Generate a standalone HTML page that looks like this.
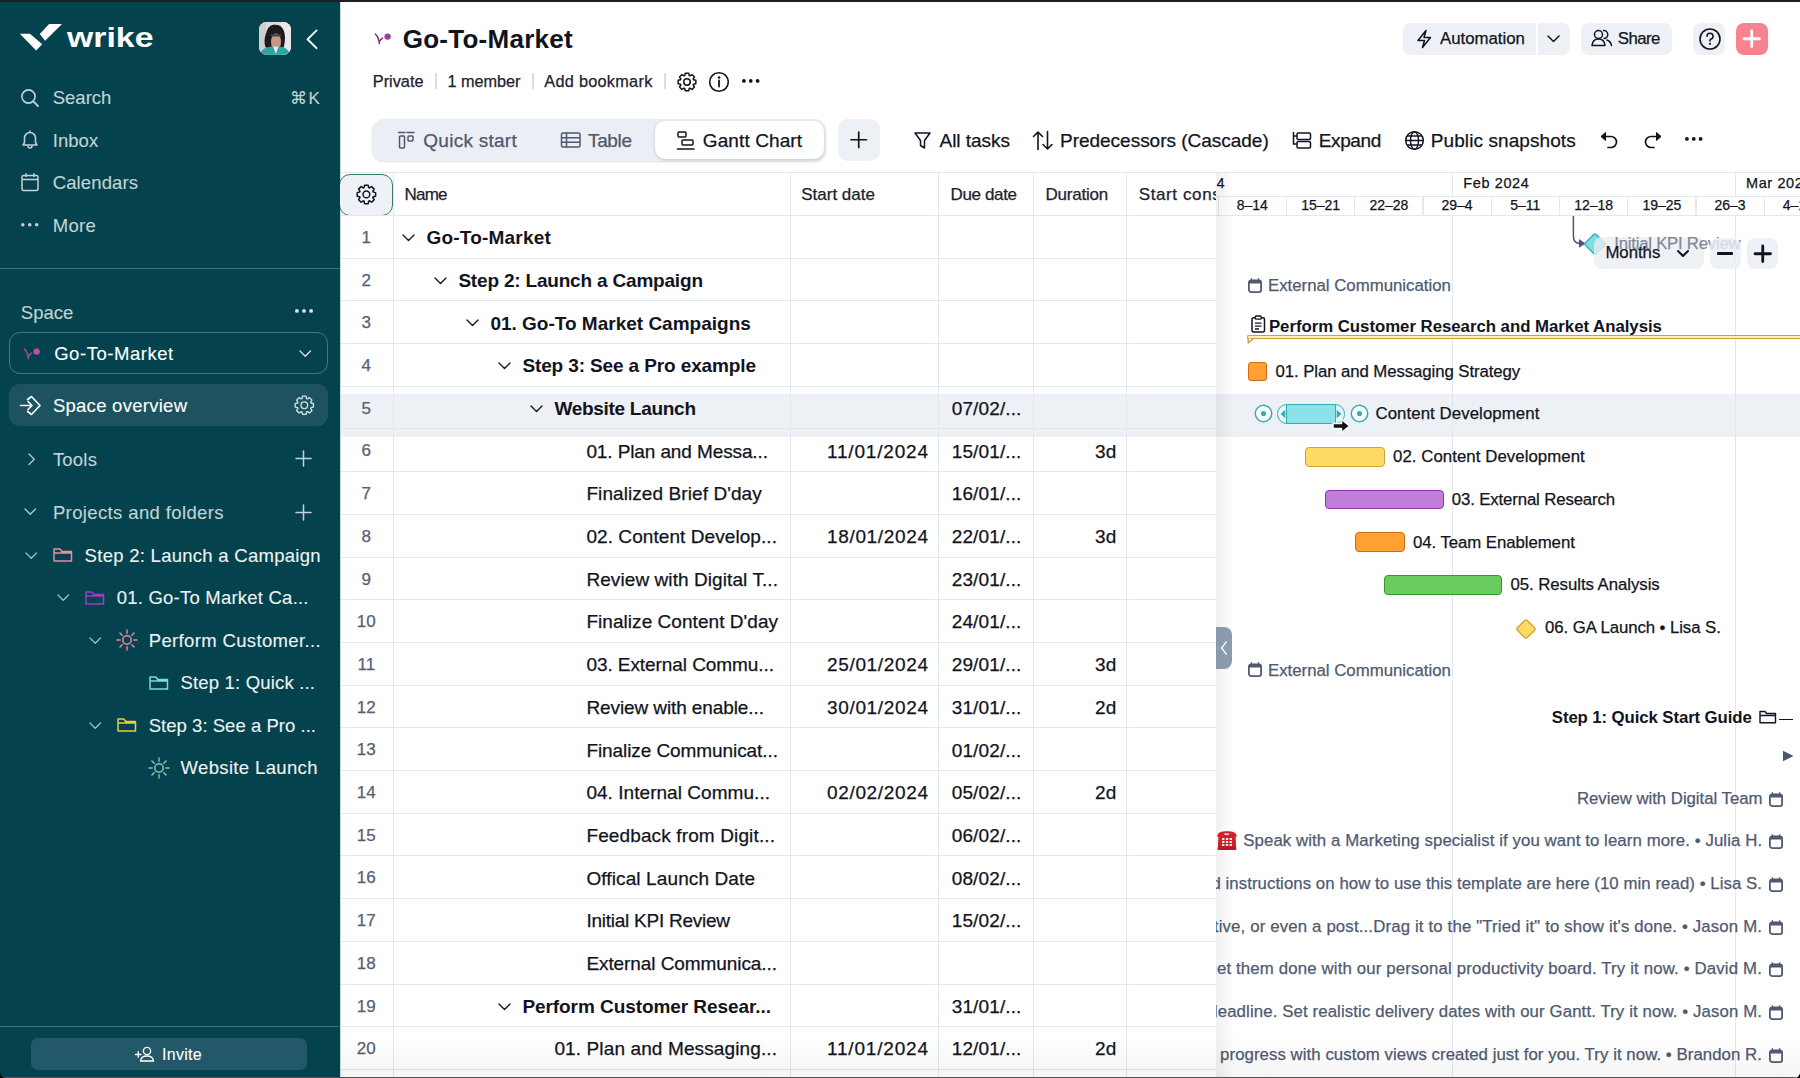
<!DOCTYPE html>
<html><head><meta charset="utf-8"><title>Wrike Gantt</title><style>*{margin:0;padding:0}
html,body{width:1800px;height:1078px;overflow:hidden;background:#000;font-family:"Liberation Sans",sans-serif}
.a{position:absolute}
.sb .t{-webkit-text-stroke:0.1px currentColor}
.t{position:absolute;line-height:1;white-space:nowrap;-webkit-text-stroke:0.25px currentColor}
#root{position:absolute;left:0;top:0;width:1800px;height:1078px;overflow:hidden;border-radius:0 0 6px 6px}
</style></head>
<body><div id="root">
<div class="sb"><div class="a" style="left:0.00px;top:0.00px;width:340.00px;height:1078.00px;background:#04434E;"></div>
<svg class="a" style="left:18.00px;top:23.00px;" width="46.00" height="29.00" viewBox="0 0 46.00 29.00" fill="none"><path d="M1.8 10.7 L12 10.7 L24.2 21.3 L18.2 27.6 Z" fill="#fff"/><path d="M21.8 11.1 L31.1 0.9 L44 0.9 L27.1 17.8 Z" fill="#fff"/></svg>
<div class="t " style="left:66.50px;top:23.40px;font-size:28.5px;color:#FFFFFF;transform:scaleX(1.1869);transform-origin:0 0;font-weight:700;-webkit-text-stroke:0.01px currentColor;">wrike</div>
<svg class="a" style="left:258.90px;top:22.30px;" width="32.00" height="32.70" viewBox="0 0 32.00 32.70" fill="none"><defs><clipPath id="av"><rect x="0" y="0" width="32" height="32.7" rx="7.5"/></clipPath></defs><g clip-path="url(#av)"><rect width="32" height="33" fill="#DCDCDC"/><rect x="22" y="0" width="10" height="33" fill="#E9E9E9"/><rect x="0" y="0" width="7" height="33" fill="#CFCFD0"/><path d="M6.5 25 C4.5 19 6 14 7.5 10 C9 5 12 2.5 16 2.8 C21 2.5 24.5 6 25.5 11 C26.5 16 26 21 24.5 26 L9 27 Z" fill="#1E1A1C"/><ellipse cx="17" cy="20" rx="5" ry="8.5" fill="#C99884"/><rect x="11.8" y="12.2" width="10.4" height="2.2" rx="1" fill="#3B4450"/><path d="M1 33 C2.5 27 7 25 13 24.6 L20 24.6 C25.5 25 29.5 27 31 33 Z" fill="#2FA6A4"/><path d="M14 24.6 L16.8 32 L19.6 24.6 Z" fill="#F0EAE6"/></g></svg>
<svg class="a" style="left:305.00px;top:27.50px;" width="15.00" height="22.50" viewBox="0 0 15.00 22.50" fill="none"><path d="M11.6 2.4 L2.6 11.3 L11.6 20.2" stroke="#EEF5F6" stroke-width="1.9" stroke-linecap="round" stroke-linejoin="round"/></svg>
<svg class="a" style="left:20.00px;top:88.00px;" width="20.00" height="20.00" viewBox="0 0 20.00 20.00" fill="none"><circle cx="8.5" cy="8.5" r="6.6" stroke="#C3D3D6" stroke-width="1.6"/><path d="M13.3 13.3 L18 18" stroke="#C3D3D6" stroke-width="1.8" stroke-linecap="round"/></svg>
<div class="t " style="left:52.70px;top:89.40px;font-size:18.5px;color:#C3D3D6;letter-spacing:0.017px;">Search</div>
<div class="t " style="left:290.00px;top:90.40px;font-size:17px;color:#C3D3D6;letter-spacing:1.411px;">⌘K</div>
<svg class="a" style="left:20.00px;top:130.00px;" width="20.00" height="21.00" viewBox="0 0 20.00 21.00" fill="none"><path d="M3 15 H17 L15.5 12.5 V8 A5.5 5.5 0 0 0 4.5 8 V12.5 Z" stroke="#C3D3D6" stroke-width="1.5" stroke-linejoin="round"/><path d="M10 1 V2.5 M8 16 A2 2 0 0 0 12 16" stroke="#C3D3D6" stroke-width="1.5" stroke-linecap="round"/></svg>
<div class="t " style="left:52.70px;top:131.70px;font-size:18.5px;color:#C3D3D6;letter-spacing:0.061px;">Inbox</div>
<svg class="a" style="left:21.00px;top:172.00px;" width="19.00" height="20.00" viewBox="0 0 19.00 20.00" fill="none"><rect x="1" y="3.5" width="16" height="15" rx="1.5" stroke="#C3D3D6" stroke-width="1.5"/><path d="M1 7.5 H17 M5 1.2 V5 M13 1.2 V5" stroke="#C3D3D6" stroke-width="1.5"/></svg>
<div class="t " style="left:52.70px;top:174.30px;font-size:18.5px;color:#C3D3D6;letter-spacing:0.122px;">Calendars</div>
<svg class="a" style="left:21.00px;top:222.20px;" width="17.50" height="5.60" viewBox="0 0 17.50 5.60" fill="none"><circle cx="1.80" cy="2.8" r="1.8" fill="#C3D3D6"/><circle cx="8.75" cy="2.8" r="1.8" fill="#C3D3D6"/><circle cx="15.70" cy="2.8" r="1.8" fill="#C3D3D6"/></svg>
<div class="t " style="left:52.70px;top:217.00px;font-size:18.5px;color:#C3D3D6;letter-spacing:0.283px;">More</div>
<div class="a" style="left:0.00px;top:268.00px;width:340.00px;height:1.30px;background:rgba(160,200,205,0.35);"></div>
<div class="t " style="left:20.80px;top:304.20px;font-size:18.5px;color:#C3D3D6;letter-spacing:0.011px;">Space</div>
<svg class="a" style="left:294.70px;top:308.40px;" width="18.00" height="5.80" viewBox="0 0 18.00 5.80" fill="none"><circle cx="1.90" cy="2.9" r="1.9" fill="#DDE7E9"/><circle cx="9.00" cy="2.9" r="1.9" fill="#DDE7E9"/><circle cx="16.10" cy="2.9" r="1.9" fill="#DDE7E9"/></svg>
<div class="a" style="left:9.40px;top:332.40px;width:318.30px;height:42.00px;border:1.3px solid rgba(170,205,210,0.38);border-radius:11px;box-sizing:border-box;"></div>
<svg class="a" style="left:19.30px;top:343.00px;" width="22.00" height="18.00" viewBox="0 0 22.00 18.00" fill="none"><path d="M5.3 6 C7.5 8 9 11 9.4 15.6" stroke="#A44C9C" stroke-width="1.5" stroke-linecap="round" fill="none"/><path d="M12.6 10.1 C11.3 10.9 10.3 12 9.7 13.3" stroke="#A44C9C" stroke-width="1.5" stroke-linecap="round" fill="none"/><circle cx="17.6" cy="8.6" r="3.2" fill="#B452AC"/></svg>
<div class="t " style="left:54.20px;top:344.80px;font-size:18.5px;color:#FFFFFF;letter-spacing:0.538px;">Go-To-Market</div>
<svg class="a" style="left:298.05px;top:349.38px;" width="14.50" height="9.25" viewBox="0 0 14.50 9.25" fill="none"><path d="M2 2 L7.25 7.25 L12.5 2" stroke="#D8E4E6" stroke-width="1.4" stroke-linecap="round" stroke-linejoin="round"/></svg>
<div class="a" style="left:9.40px;top:384.40px;width:318.30px;height:42.10px;background:#1D5360;border-radius:11px;"></div>
<svg class="a" style="left:19.00px;top:395.00px;" width="23.00" height="21.00" viewBox="0 0 23.00 21.00" fill="none"><path d="M1.5 10.5 H13 M9 6.5 L13 10.5 L9 14.5" stroke="#fff" stroke-width="1.6" stroke-linecap="round" stroke-linejoin="round"/><path d="M8 5 L12.5 1.5 L21 10.5 L12.5 19.5 L8 16" stroke="#fff" stroke-width="1.6" stroke-linejoin="round"/></svg>
<div class="t " style="left:52.90px;top:396.80px;font-size:18.5px;color:#FFFFFF;letter-spacing:0.270px;">Space overview</div>
<svg class="a" style="left:293.10px;top:394.20px;" width="22.60" height="22.60" viewBox="0 0 22.60 22.60" fill="none"><path d="M9.00 4.62 L9.53 2.17 L13.07 2.17 L13.60 4.62 L14.40 4.95 L16.50 3.59 L19.01 6.10 L17.65 8.20 L17.98 9.00 L20.43 9.53 L20.43 13.07 L17.98 13.60 L17.65 14.40 L19.01 16.50 L16.50 19.01 L14.40 17.65 L13.60 17.98 L13.07 20.43 L9.53 20.43 L9.00 17.98 L8.20 17.65 L6.10 19.01 L3.59 16.50 L4.95 14.40 L4.62 13.60 L2.17 13.07 L2.17 9.53 L4.62 9.00 L4.95 8.20 L3.59 6.10 L6.10 3.59 L8.20 4.95 Z" stroke="#D8E4E6" stroke-width="1.3" stroke-linejoin="round"/><circle cx="11.3" cy="11.3" r="3.35" stroke="#D8E4E6" stroke-width="1.3"/></svg>
<svg class="a" style="left:26.98px;top:451.55px;" width="9.25" height="14.50" viewBox="0 0 9.25 14.50" fill="none"><path d="M2 2 L7.25 7.25 L2 12.5" stroke="#B4C7CA" stroke-width="1.4" stroke-linecap="round" stroke-linejoin="round"/></svg>
<div class="t " style="left:52.90px;top:450.50px;font-size:18.5px;color:#C3D3D6;letter-spacing:0.203px;">Tools</div>
<svg class="a" style="left:293.70px;top:449.00px;" width="19.00" height="19.00" viewBox="0 0 19.00 19.00" fill="none"><path d="M9.5 2 V17 M2 9.5 H17" stroke="#C3D3D6" stroke-width="1.5" stroke-linecap="round"/></svg>
<svg class="a" style="left:23.45px;top:507.38px;" width="14.50" height="9.25" viewBox="0 0 14.50 9.25" fill="none"><path d="M2 2 L7.25 7.25 L12.5 2" stroke="#B4C7CA" stroke-width="1.4" stroke-linecap="round" stroke-linejoin="round"/></svg>
<div class="t " style="left:52.90px;top:503.80px;font-size:18.5px;color:#C3D3D6;letter-spacing:0.374px;">Projects and folders</div>
<svg class="a" style="left:293.70px;top:502.50px;" width="19.00" height="19.00" viewBox="0 0 19.00 19.00" fill="none"><path d="M9.5 2 V17 M2 9.5 H17" stroke="#C3D3D6" stroke-width="1.5" stroke-linecap="round"/></svg>
<svg class="a" style="left:23.75px;top:550.58px;" width="14.50" height="9.25" viewBox="0 0 14.50 9.25" fill="none"><path d="M2 2 L7.25 7.25 L12.5 2" stroke="#A6BCC0" stroke-width="1.3" stroke-linecap="round" stroke-linejoin="round"/></svg>
<svg class="a" style="left:53.10px;top:547.20px;" width="19.50" height="15.00" viewBox="0 0 19.50 15.00" fill="none"><path d="M1 14 V2 H6.824999999999999 L8.775 4.5 H18.5 V14 Z M1 6 H18.5" stroke="#E88BA6" stroke-width="1.5" stroke-linejoin="round"/></svg>
<div class="t " style="left:84.60px;top:546.70px;font-size:18.5px;color:#EEF3F4;letter-spacing:0.277px;">Step 2: Launch a Campaign</div>
<svg class="a" style="left:55.85px;top:593.08px;" width="14.50" height="9.25" viewBox="0 0 14.50 9.25" fill="none"><path d="M2 2 L7.25 7.25 L12.5 2" stroke="#A6BCC0" stroke-width="1.3" stroke-linecap="round" stroke-linejoin="round"/></svg>
<svg class="a" style="left:85.20px;top:589.70px;" width="19.50" height="15.00" viewBox="0 0 19.50 15.00" fill="none"><path d="M1 14 V2 H6.824999999999999 L8.775 4.5 H18.5 V14 Z M1 6 H18.5" stroke="#9C3CC9" stroke-width="1.6" stroke-linejoin="round"/></svg>
<div class="t " style="left:116.70px;top:589.20px;font-size:18.5px;color:#EEF3F4;letter-spacing:0.223px;">01. Go-To Market Ca...</div>
<svg class="a" style="left:87.85px;top:635.58px;" width="14.50" height="9.25" viewBox="0 0 14.50 9.25" fill="none"><path d="M2 2 L7.25 7.25 L12.5 2" stroke="#A6BCC0" stroke-width="1.3" stroke-linecap="round" stroke-linejoin="round"/></svg>
<svg class="a" style="left:116.20px;top:629.20px;" width="22.00" height="22.00" viewBox="0 0 22.00 22.00" fill="none"><circle cx="11" cy="11" r="4.2" stroke="#E88BA6" stroke-width="1.5"/><path d="M17.80 11.00 L21.00 11.00" stroke="#E88BA6" stroke-width="1.4" stroke-linecap="round"/><path d="M15.81 15.81 L18.07 18.07" stroke="#E88BA6" stroke-width="1.4" stroke-linecap="round"/><path d="M11.00 17.80 L11.00 21.00" stroke="#E88BA6" stroke-width="1.4" stroke-linecap="round"/><path d="M6.19 15.81 L3.93 18.07" stroke="#E88BA6" stroke-width="1.4" stroke-linecap="round"/><path d="M4.20 11.00 L1.00 11.00" stroke="#E88BA6" stroke-width="1.4" stroke-linecap="round"/><path d="M6.19 6.19 L3.93 3.93" stroke="#E88BA6" stroke-width="1.4" stroke-linecap="round"/><path d="M11.00 4.20 L11.00 1.00" stroke="#E88BA6" stroke-width="1.4" stroke-linecap="round"/><path d="M15.81 6.19 L18.07 3.93" stroke="#E88BA6" stroke-width="1.4" stroke-linecap="round"/></svg>
<div class="t " style="left:148.70px;top:631.70px;font-size:18.5px;color:#EEF3F4;letter-spacing:0.355px;">Perform Customer...</div>
<svg class="a" style="left:149.00px;top:674.70px;" width="19.50" height="15.00" viewBox="0 0 19.50 15.00" fill="none"><path d="M1 14 V2 H6.824999999999999 L8.775 4.5 H18.5 V14 Z M1 6 H18.5" stroke="#7ED9E0" stroke-width="1.5" stroke-linejoin="round"/></svg>
<div class="t " style="left:180.50px;top:674.20px;font-size:18.5px;color:#EEF3F4;letter-spacing:0.180px;">Step 1: Quick ...</div>
<svg class="a" style="left:87.85px;top:720.58px;" width="14.50" height="9.25" viewBox="0 0 14.50 9.25" fill="none"><path d="M2 2 L7.25 7.25 L12.5 2" stroke="#A6BCC0" stroke-width="1.3" stroke-linecap="round" stroke-linejoin="round"/></svg>
<svg class="a" style="left:117.20px;top:717.20px;" width="19.50" height="15.00" viewBox="0 0 19.50 15.00" fill="none"><path d="M1 14 V2 H6.824999999999999 L8.775 4.5 H18.5 V14 Z M1 6 H18.5" stroke="#F2C94C" stroke-width="1.5" stroke-linejoin="round"/></svg>
<div class="t " style="left:148.70px;top:716.70px;font-size:18.5px;color:#EEF3F4;letter-spacing:0.035px;">Step 3: See a Pro ...</div>
<svg class="a" style="left:148.00px;top:756.70px;" width="22.00" height="22.00" viewBox="0 0 22.00 22.00" fill="none"><circle cx="11" cy="11" r="4.2" stroke="#8CC6B4" stroke-width="1.5"/><path d="M17.80 11.00 L21.00 11.00" stroke="#8CC6B4" stroke-width="1.4" stroke-linecap="round"/><path d="M15.81 15.81 L18.07 18.07" stroke="#8CC6B4" stroke-width="1.4" stroke-linecap="round"/><path d="M11.00 17.80 L11.00 21.00" stroke="#8CC6B4" stroke-width="1.4" stroke-linecap="round"/><path d="M6.19 15.81 L3.93 18.07" stroke="#8CC6B4" stroke-width="1.4" stroke-linecap="round"/><path d="M4.20 11.00 L1.00 11.00" stroke="#8CC6B4" stroke-width="1.4" stroke-linecap="round"/><path d="M6.19 6.19 L3.93 3.93" stroke="#8CC6B4" stroke-width="1.4" stroke-linecap="round"/><path d="M11.00 4.20 L11.00 1.00" stroke="#8CC6B4" stroke-width="1.4" stroke-linecap="round"/><path d="M15.81 6.19 L18.07 3.93" stroke="#8CC6B4" stroke-width="1.4" stroke-linecap="round"/></svg>
<div class="t " style="left:180.50px;top:759.20px;font-size:18.5px;color:#EEF3F4;letter-spacing:0.359px;">Website Launch</div>
<div class="a" style="left:0.00px;top:1026.00px;width:340.00px;height:1.30px;background:rgba(160,200,205,0.35);"></div>
<div class="a" style="left:30.80px;top:1038.00px;width:276.20px;height:31.70px;background:#225868;border-radius:7px;"></div>
<svg class="a" style="left:134.00px;top:1046.00px;" width="21.00" height="16.00" viewBox="0 0 21.00 16.00" fill="none"><path d="M1.5 8.5 H7 M4.25 5.75 V11.25" stroke="#fff" stroke-width="1.3" stroke-linecap="round"/><circle cx="13" cy="5" r="3.6" stroke="#fff" stroke-width="1.4"/><path d="M6.5 15 C7 11 9.5 10 13 10 C16.5 10 19 11 19.5 15 Z" stroke="#fff" stroke-width="1.4" stroke-linejoin="round"/></svg>
<div class="t " style="left:162.00px;top:1046.70px;font-size:16px;color:#FFFFFF;letter-spacing:0.292px;">Invite</div></div>
<div class="a" style="left:340.00px;top:0.00px;width:1460.00px;height:1078.00px;background:#fff;"></div>
<div class="a" style="left:340.00px;top:2.00px;width:1.00px;height:1076.00px;background:#C9DCDD;"></div>
<svg class="a" style="left:370.00px;top:28.00px;" width="22.00" height="18.00" viewBox="0 0 22.00 18.00" fill="none"><path d="M5.3 6 C7.5 8 9 11 9.4 15.6" stroke="#6E2F6E" stroke-width="1.5" stroke-linecap="round" fill="none"/><path d="M12.6 10.1 C11.3 10.9 10.3 12 9.7 13.3" stroke="#6E2F6E" stroke-width="1.5" stroke-linecap="round" fill="none"/><circle cx="17.6" cy="8.6" r="3.2" fill="#9C3F9B"/></svg>
<div class="t " style="left:402.70px;top:25.70px;font-size:26px;color:#111420;font-weight:700;-webkit-text-stroke:0.01px currentColor;letter-spacing:0.266px;">Go-To-Market</div>
<div class="t " style="left:372.80px;top:72.60px;font-size:16.3px;color:#1D2130;">Private</div>
<div class="a" style="left:435.00px;top:73.00px;width:1.70px;height:16.00px;background:#D8DEE8;"></div>
<div class="t " style="left:447.50px;top:72.60px;font-size:16.3px;color:#1D2130;letter-spacing:-0.054px;">1 member</div>
<div class="a" style="left:531.90px;top:73.00px;width:1.70px;height:16.00px;background:#D8DEE8;"></div>
<div class="t " style="left:544.30px;top:72.60px;font-size:16.3px;color:#1D2130;letter-spacing:0.273px;">Add bookmark</div>
<div class="a" style="left:664.40px;top:73.00px;width:1.70px;height:16.00px;background:#D8DEE8;"></div>
<svg class="a" style="left:676.20px;top:70.50px;" width="22.00" height="22.00" viewBox="0 0 22.00 22.00" fill="none"><path d="M8.77 4.53 L9.28 2.17 L12.72 2.17 L13.23 4.53 L14.00 4.85 L16.03 3.54 L18.46 5.97 L17.15 8.00 L17.47 8.77 L19.83 9.28 L19.83 12.72 L17.47 13.23 L17.15 14.00 L18.46 16.03 L16.03 18.46 L14.00 17.15 L13.23 17.47 L12.72 19.83 L9.28 19.83 L8.77 17.47 L8.00 17.15 L5.97 18.46 L3.54 16.03 L4.85 14.00 L4.53 13.23 L2.17 12.72 L2.17 9.28 L4.53 8.77 L4.85 8.00 L3.54 5.97 L5.97 3.54 L8.00 4.85 Z" stroke="#111420" stroke-width="1.5" stroke-linejoin="round"/><circle cx="11.0" cy="11.0" r="3.24" stroke="#111420" stroke-width="1.5"/></svg>
<svg class="a" style="left:708.00px;top:71.00px;" width="22.00" height="22.00" viewBox="0 0 22.00 22.00" fill="none"><circle cx="11" cy="11" r="9.3" stroke="#111420" stroke-width="1.6"/><path d="M11 9.5 V15.5" stroke="#111420" stroke-width="1.8" stroke-linecap="round"/><circle cx="11" cy="6.5" r="1.2" fill="#111420"/></svg>
<svg class="a" style="left:742.00px;top:78.10px;" width="17.50" height="5.80" viewBox="0 0 17.50 5.80" fill="none"><circle cx="1.90" cy="2.9" r="1.9" fill="#111420"/><circle cx="8.75" cy="2.9" r="1.9" fill="#111420"/><circle cx="15.60" cy="2.9" r="1.9" fill="#111420"/></svg>
<div class="a" style="left:1402.70px;top:22.80px;width:166.90px;height:31.80px;background:#EDF0F5;border-radius:8px;"></div>
<div class="a" style="left:1536.00px;top:22.80px;width:2.00px;height:31.80px;background:#fff;"></div>
<svg class="a" style="left:1415.00px;top:29.00px;" width="18.00" height="20.00" viewBox="0 0 18.00 20.00" fill="none"><path d="M11 1.5 L3 11.5 H9.5 L7.5 18.5 L15.5 8.5 H9 Z" stroke="#111420" stroke-width="1.5" stroke-linejoin="round"/></svg>
<div class="t " style="left:1440.00px;top:30.90px;font-size:16.8px;color:#111420;">Automation</div>
<svg class="a" style="left:1545.80px;top:33.95px;" width="15.00" height="9.50" viewBox="0 0 15.00 9.50" fill="none"><path d="M2 2 L7.5 7.5 L13 2" stroke="#111420" stroke-width="1.5" stroke-linecap="round" stroke-linejoin="round"/></svg>
<div class="a" style="left:1580.70px;top:22.80px;width:91.10px;height:31.80px;background:#EDF0F5;border-radius:8px;"></div>
<svg class="a" style="left:1590.00px;top:28.00px;" width="24.00" height="20.00" viewBox="0 0 24.00 20.00" fill="none"><circle cx="8.5" cy="6.5" r="4" stroke="#111420" stroke-width="1.5"/><path d="M2 17.5 C2.5 12.5 5 11 8.5 11 C12 11 14.5 12.5 15 17.5 Z" stroke="#111420" stroke-width="1.5" stroke-linejoin="round"/><path d="M13.5 2.5 A4 4 0 0 1 14 10.5 M17 12 C19.5 13 21 14.5 21.5 17.5" stroke="#111420" stroke-width="1.5" stroke-linecap="round"/></svg>
<div class="t " style="left:1617.80px;top:30.90px;font-size:16.8px;color:#111420;letter-spacing:-0.558px;">Share</div>
<div class="a" style="left:1693.30px;top:22.80px;width:31.60px;height:31.80px;background:#EDF0F5;border-radius:8px;"></div>
<svg class="a" style="left:1697.50px;top:28.00px;" width="24.00" height="22.00" viewBox="0 0 24.00 22.00" fill="none"><circle cx="12" cy="11" r="10" stroke="#111420" stroke-width="1.6"/><path d="M9 8.2 A3 3 0 1 1 12.5 11.2 C12 11.5 12 12 12 13" stroke="#111420" stroke-width="1.6" stroke-linecap="round"/><circle cx="12" cy="15.8" r="1.1" fill="#111420"/></svg>
<div class="a" style="left:1736.00px;top:22.80px;width:31.80px;height:31.80px;background:#F7838F;border-radius:8px;"></div>
<svg class="a" style="left:1742.25px;top:28.95px;" width="19.50" height="19.50" viewBox="0 0 19.50 19.50" fill="none"><path d="M9.75 2 V17.5 M2 9.75 H17.5" stroke="#fff" stroke-width="2.8" stroke-linecap="round"/></svg>
<div class="a" style="left:372.30px;top:119.30px;width:453.50px;height:41.70px;background:#EBEEF4;border-radius:12px;box-shadow:0 1px 2px rgba(120,130,150,0.25);"></div>
<div class="a" style="left:654.60px;top:121.00px;width:169.80px;height:38.00px;background:#fff;border-radius:10px;box-shadow:0 1px 3px rgba(60,70,90,0.25);"></div>
<svg class="a" style="left:397.00px;top:130.00px;" width="20.00" height="20.00" viewBox="0 0 20.00 20.00" fill="none"><rect x="2.5" y="6" width="5" height="12" rx="1" stroke="#4E586C" stroke-width="1.5"/><rect x="11" y="6" width="5" height="5" rx="1" stroke="#4E586C" stroke-width="1.5"/><path d="M1.5 2.5 H8 M10 2.5 H17" stroke="#4E586C" stroke-width="1.5" stroke-linecap="round"/></svg>
<div class="t " style="left:423.30px;top:131.30px;font-size:19px;color:#4E586C;letter-spacing:0.260px;">Quick start</div>
<svg class="a" style="left:560.00px;top:131.00px;" width="22.00" height="18.00" viewBox="0 0 22.00 18.00" fill="none"><rect x="1.5" y="2" width="18.5" height="14" rx="1.5" stroke="#4E586C" stroke-width="1.5"/><path d="M1.5 6.8 H20 M1.5 11.3 H20 M6.5 2 V16" stroke="#4E586C" stroke-width="1.5"/></svg>
<div class="t " style="left:588.00px;top:131.30px;font-size:19px;color:#4E586C;letter-spacing:-0.356px;">Table</div>
<svg class="a" style="left:676.00px;top:130.00px;" width="20.00" height="21.00" viewBox="0 0 20.00 21.00" fill="none"><rect x="2" y="2" width="8" height="5" rx="1" stroke="#111420" stroke-width="1.5"/><rect x="6" y="10" width="11" height="5" rx="1" stroke="#111420" stroke-width="1.5"/><path d="M1.5 19 H18" stroke="#111420" stroke-width="1.6" stroke-linecap="round"/></svg>
<div class="t " style="left:702.80px;top:131.30px;font-size:19px;color:#111420;letter-spacing:0.099px;">Gantt Chart</div>
<div class="a" style="left:837.50px;top:119.30px;width:42.30px;height:41.70px;background:#EDF0F5;border-radius:10px;"></div>
<svg class="a" style="left:848.55px;top:130.45px;" width="19.50" height="19.50" viewBox="0 0 19.50 19.50" fill="none"><path d="M9.75 2 V17.5 M2 9.75 H17.5" stroke="#111420" stroke-width="1.7" stroke-linecap="round"/></svg>
<svg class="a" style="left:913.00px;top:131.00px;" width="19.00" height="19.00" viewBox="0 0 19.00 19.00" fill="none"><path d="M2 2 H17 L11.5 9.5 V17 L7.5 14.5 V9.5 Z" stroke="#111420" stroke-width="1.5" stroke-linejoin="round"/></svg>
<div class="t " style="left:939.50px;top:131.00px;font-size:19px;color:#111420;letter-spacing:-0.030px;">All tasks</div>
<svg class="a" style="left:1032.00px;top:130.00px;" width="22.00" height="21.00" viewBox="0 0 22.00 21.00" fill="none"><path d="M6 19.5 V2 M1.5 6.5 L6 2 L10.5 6.5 M15.5 1.5 V19 M11 14.5 L15.5 19 L20 14.5" stroke="#111420" stroke-width="1.6" stroke-linecap="round" stroke-linejoin="round"/></svg>
<div class="t " style="left:1060.00px;top:131.00px;font-size:19px;color:#111420;letter-spacing:-0.016px;">Predecessors (Cascade)</div>
<svg class="a" style="left:1291.00px;top:131.00px;" width="22.00" height="19.00" viewBox="0 0 22.00 19.00" fill="none"><path d="M2.5 1 V13 H6" stroke="#111420" stroke-width="1.5"/><path d="M2.5 5 H6" stroke="#111420" stroke-width="1.5"/><rect x="6" y="2" width="13.5" height="6.5" rx="1.2" stroke="#111420" stroke-width="1.5"/><rect x="6" y="10.5" width="13.5" height="6.5" rx="1.2" stroke="#111420" stroke-width="1.5"/></svg>
<div class="t " style="left:1318.75px;top:131.00px;font-size:19px;color:#111420;letter-spacing:-0.388px;">Expand</div>
<svg class="a" style="left:1404.00px;top:130.00px;" width="21.00" height="21.00" viewBox="0 0 21.00 21.00" fill="none"><circle cx="10.5" cy="10.5" r="8.8" stroke="#111420" stroke-width="1.5"/><ellipse cx="10.5" cy="10.5" rx="4" ry="8.8" stroke="#111420" stroke-width="1.4"/><path d="M1.7 10.5 H19.3 M3 6 H18 M3 15 H18" stroke="#111420" stroke-width="1.4"/></svg>
<div class="t " style="left:1430.75px;top:131.00px;font-size:19px;color:#111420;letter-spacing:0.090px;">Public snapshots</div>
<svg class="a" style="left:1599.00px;top:131.00px;" width="22.00" height="18.00" viewBox="0 0 22.00 18.00" fill="none"><path d="M3 5.5 H12 A5.5 5.5 0 0 1 12 16.5 H9" stroke="#111420" stroke-width="1.7" stroke-linecap="round"/><path d="M6.5 1.5 L2 5.5 L6.5 9.5 Z" fill="#111420" stroke="#111420" stroke-width="1" stroke-linejoin="round"/></svg>
<svg class="a" style="left:1641.00px;top:131.00px;" width="22.00" height="18.00" viewBox="0 0 22.00 18.00" fill="none"><path d="M19 5.5 H10 A5.5 5.5 0 0 0 10 16.5 H13" stroke="#111420" stroke-width="1.7" stroke-linecap="round"/><path d="M15.5 1.5 L20 5.5 L15.5 9.5 Z" fill="#111420" stroke="#111420" stroke-width="1" stroke-linejoin="round"/></svg>
<svg class="a" style="left:1685.00px;top:136.40px;" width="17.50" height="5.80" viewBox="0 0 17.50 5.80" fill="none"><circle cx="1.90" cy="2.9" r="1.9" fill="#111420"/><circle cx="8.75" cy="2.9" r="1.9" fill="#111420"/><circle cx="15.60" cy="2.9" r="1.9" fill="#111420"/></svg>
<div class="a" style="left:341.00px;top:394.00px;width:875.00px;height:43.00px;background:#EDF0F5;"></div>
<div class="a" style="left:341.00px;top:172.00px;width:1459.00px;height:1.20px;background:#E3E7EE;"></div>
<div class="a" style="left:340px;top:170px;width:60px;height:50px;overflow:hidden"><div class="a" style="left:-0.80px;top:3.70px;width:54.20px;height:42.10px;background:#EEF1F6;border:1.7px solid #2E7A72;border-radius:11px;box-sizing:border-box;"></div></div>
<svg class="a" style="left:355.40px;top:183.20px;" width="22.80" height="22.80" viewBox="0 0 22.80 22.80" fill="none"><path d="M9.07 4.65 L9.61 2.17 L13.19 2.17 L13.73 4.65 L14.53 4.98 L16.66 3.61 L19.19 6.14 L17.82 8.27 L18.15 9.07 L20.63 9.61 L20.63 13.19 L18.15 13.73 L17.82 14.53 L19.19 16.66 L16.66 19.19 L14.53 17.82 L13.73 18.15 L13.19 20.63 L9.61 20.63 L9.07 18.15 L8.27 17.82 L6.14 19.19 L3.61 16.66 L4.98 14.53 L4.65 13.73 L2.17 13.19 L2.17 9.61 L4.65 9.07 L4.98 8.27 L3.61 6.14 L6.14 3.61 L8.27 4.98 Z" stroke="#111420" stroke-width="1.5" stroke-linejoin="round"/><circle cx="11.4" cy="11.4" r="3.38" stroke="#111420" stroke-width="1.5"/></svg>
<div class="t " style="left:404.50px;top:186.00px;font-size:17px;color:#1D2130;letter-spacing:-0.782px;">Name</div>
<div class="t " style="left:801.25px;top:186.00px;font-size:17px;color:#1D2130;">Start date</div>
<div class="t " style="left:950.50px;top:186.00px;font-size:17px;color:#1D2130;letter-spacing:-0.357px;">Due date</div>
<div class="t " style="left:1045.50px;top:186.00px;font-size:17px;color:#1D2130;letter-spacing:-0.215px;">Duration</div>
<div class="a" style="left:1127px;top:172px;width:89px;height:44px;overflow:hidden"><div class="t " style="left:11.75px;top:14.00px;font-size:17px;color:#1D2130;letter-spacing:0.607px;">Start cons</div></div>
<div class="a" style="left:393.00px;top:173.00px;width:1.00px;height:905.00px;background:#E3E7EE;"></div>
<div class="a" style="left:790.00px;top:173.00px;width:1.00px;height:905.00px;background:#E3E7EE;"></div>
<div class="a" style="left:938.00px;top:173.00px;width:1.00px;height:905.00px;background:#E3E7EE;"></div>
<div class="a" style="left:1033.00px;top:173.00px;width:1.00px;height:905.00px;background:#E3E7EE;"></div>
<div class="a" style="left:1126.00px;top:173.00px;width:1.00px;height:905.00px;background:#E3E7EE;"></div>
<div class="a" style="left:341.00px;top:215.00px;width:875.00px;height:1.20px;background:#E3E7EE;"></div>
<div class="a" style="left:341.00px;top:258.00px;width:875.00px;height:1.00px;background:#E3E7EE;"></div>
<div class="a" style="left:341.00px;top:300.00px;width:875.00px;height:1.00px;background:#E3E7EE;"></div>
<div class="a" style="left:341.00px;top:343.00px;width:875.00px;height:1.00px;background:#E3E7EE;"></div>
<div class="a" style="left:341.00px;top:386.00px;width:875.00px;height:1.00px;background:#E3E7EE;"></div>
<div class="a" style="left:341.00px;top:428.00px;width:875.00px;height:1.00px;background:#E3E7EE;"></div>
<div class="a" style="left:341.00px;top:471.00px;width:875.00px;height:1.00px;background:#E3E7EE;"></div>
<div class="a" style="left:341.00px;top:514.00px;width:875.00px;height:1.00px;background:#E3E7EE;"></div>
<div class="a" style="left:341.00px;top:557.00px;width:875.00px;height:1.00px;background:#E3E7EE;"></div>
<div class="a" style="left:341.00px;top:599.00px;width:875.00px;height:1.00px;background:#E3E7EE;"></div>
<div class="a" style="left:341.00px;top:642.00px;width:875.00px;height:1.00px;background:#E3E7EE;"></div>
<div class="a" style="left:341.00px;top:685.00px;width:875.00px;height:1.00px;background:#E3E7EE;"></div>
<div class="a" style="left:341.00px;top:727.00px;width:875.00px;height:1.00px;background:#E3E7EE;"></div>
<div class="a" style="left:341.00px;top:770.00px;width:875.00px;height:1.00px;background:#E3E7EE;"></div>
<div class="a" style="left:341.00px;top:813.00px;width:875.00px;height:1.00px;background:#E3E7EE;"></div>
<div class="a" style="left:341.00px;top:855.00px;width:875.00px;height:1.00px;background:#E3E7EE;"></div>
<div class="a" style="left:341.00px;top:898.00px;width:875.00px;height:1.00px;background:#E3E7EE;"></div>
<div class="a" style="left:341.00px;top:941.00px;width:875.00px;height:1.00px;background:#E3E7EE;"></div>
<div class="a" style="left:341.00px;top:984.00px;width:875.00px;height:1.00px;background:#E3E7EE;"></div>
<div class="a" style="left:341.00px;top:1026.00px;width:875.00px;height:1.00px;background:#E3E7EE;"></div>
<div class="a" style="left:341.00px;top:1069.00px;width:875.00px;height:1.00px;background:#E3E7EE;"></div>
<div class="t " style="left:361.57px;top:228.90px;font-size:17px;color:#566075;">1</div>
<svg class="a" style="left:400.90px;top:232.90px;" width="15.00" height="9.50" viewBox="0 0 15.00 9.50" fill="none"><path d="M2 2 L7.5 7.5 L13 2" stroke="#111420" stroke-width="1.35" stroke-linecap="round" stroke-linejoin="round"/></svg>
<div class="t " style="left:426.40px;top:228.10px;font-size:19px;color:#111420;font-weight:700;-webkit-text-stroke:0.01px currentColor;letter-spacing:0.210px;">Go-To-Market</div>
<div class="t " style="left:361.57px;top:271.60px;font-size:17px;color:#566075;">2</div>
<svg class="a" style="left:432.90px;top:275.60px;" width="15.00" height="9.50" viewBox="0 0 15.00 9.50" fill="none"><path d="M2 2 L7.5 7.5 L13 2" stroke="#111420" stroke-width="1.35" stroke-linecap="round" stroke-linejoin="round"/></svg>
<div class="t " style="left:458.40px;top:270.80px;font-size:19px;color:#111420;font-weight:700;-webkit-text-stroke:0.01px currentColor;letter-spacing:-0.190px;">Step 2: Launch a Campaign</div>
<div class="t " style="left:361.57px;top:314.30px;font-size:17px;color:#566075;">3</div>
<svg class="a" style="left:464.90px;top:318.30px;" width="15.00" height="9.50" viewBox="0 0 15.00 9.50" fill="none"><path d="M2 2 L7.5 7.5 L13 2" stroke="#111420" stroke-width="1.35" stroke-linecap="round" stroke-linejoin="round"/></svg>
<div class="t " style="left:490.40px;top:313.50px;font-size:19px;color:#111420;font-weight:700;-webkit-text-stroke:0.01px currentColor;">01. Go-To Market Campaigns</div>
<div class="t " style="left:361.57px;top:357.00px;font-size:17px;color:#566075;">4</div>
<svg class="a" style="left:496.90px;top:361.00px;" width="15.00" height="9.50" viewBox="0 0 15.00 9.50" fill="none"><path d="M2 2 L7.5 7.5 L13 2" stroke="#111420" stroke-width="1.35" stroke-linecap="round" stroke-linejoin="round"/></svg>
<div class="t " style="left:522.40px;top:356.20px;font-size:19px;color:#111420;font-weight:700;-webkit-text-stroke:0.01px currentColor;letter-spacing:-0.123px;">Step 3: See a Pro example</div>
<div class="t " style="left:361.57px;top:399.70px;font-size:17px;color:#566075;">5</div>
<svg class="a" style="left:528.90px;top:403.70px;" width="15.00" height="9.50" viewBox="0 0 15.00 9.50" fill="none"><path d="M2 2 L7.5 7.5 L13 2" stroke="#111420" stroke-width="1.35" stroke-linecap="round" stroke-linejoin="round"/></svg>
<div class="t " style="left:554.40px;top:398.90px;font-size:19px;color:#111420;font-weight:700;-webkit-text-stroke:0.01px currentColor;letter-spacing:-0.288px;">Website Launch</div>
<div class="t " style="left:951.70px;top:398.90px;font-size:19px;color:#111420;letter-spacing:0.130px;">07/02/...</div>
<div class="t " style="left:361.57px;top:442.40px;font-size:17px;color:#566075;">6</div>
<div class="t " style="left:586.40px;top:441.60px;font-size:19px;color:#111420;letter-spacing:-0.109px;">01. Plan and Messa...</div>
<div class="t " style="left:827.00px;top:441.60px;font-size:19px;color:#111420;letter-spacing:0.813px;">11/01/2024</div>
<div class="t " style="left:951.70px;top:441.60px;font-size:19px;color:#111420;letter-spacing:0.130px;">15/01/...</div>
<div class="t " style="left:1095.00px;top:441.60px;font-size:19px;color:#111420;letter-spacing:0.266px;">3d</div>
<div class="t " style="left:361.57px;top:485.10px;font-size:17px;color:#566075;">7</div>
<div class="t " style="left:586.40px;top:484.30px;font-size:19px;color:#111420;letter-spacing:0.083px;">Finalized Brief D'day</div>
<div class="t " style="left:951.70px;top:484.30px;font-size:19px;color:#111420;letter-spacing:0.130px;">16/01/...</div>
<div class="t " style="left:361.57px;top:527.80px;font-size:17px;color:#566075;">8</div>
<div class="t " style="left:586.40px;top:527.00px;font-size:19px;color:#111420;letter-spacing:0.073px;">02. Content Develop...</div>
<div class="t " style="left:827.00px;top:527.00px;font-size:19px;color:#111420;letter-spacing:0.656px;">18/01/2024</div>
<div class="t " style="left:951.70px;top:527.00px;font-size:19px;color:#111420;letter-spacing:0.130px;">22/01/...</div>
<div class="t " style="left:1095.00px;top:527.00px;font-size:19px;color:#111420;letter-spacing:0.266px;">3d</div>
<div class="t " style="left:361.57px;top:570.50px;font-size:17px;color:#566075;">9</div>
<div class="t " style="left:586.40px;top:569.70px;font-size:19px;color:#111420;letter-spacing:0.082px;">Review with Digital T...</div>
<div class="t " style="left:951.70px;top:569.70px;font-size:19px;color:#111420;letter-spacing:0.130px;">23/01/...</div>
<div class="t " style="left:356.85px;top:613.20px;font-size:17px;color:#566075;">10</div>
<div class="t " style="left:586.40px;top:612.40px;font-size:19px;color:#111420;letter-spacing:0.050px;">Finalize Content D'day</div>
<div class="t " style="left:951.70px;top:612.40px;font-size:19px;color:#111420;letter-spacing:0.130px;">24/01/...</div>
<div class="t " style="left:357.48px;top:655.90px;font-size:17px;color:#566075;">11</div>
<div class="t " style="left:586.40px;top:655.10px;font-size:19px;color:#111420;letter-spacing:-0.071px;">03. External Commu...</div>
<div class="t " style="left:827.00px;top:655.10px;font-size:19px;color:#111420;letter-spacing:0.656px;">25/01/2024</div>
<div class="t " style="left:951.70px;top:655.10px;font-size:19px;color:#111420;letter-spacing:0.130px;">29/01/...</div>
<div class="t " style="left:1095.00px;top:655.10px;font-size:19px;color:#111420;letter-spacing:0.266px;">3d</div>
<div class="t " style="left:356.85px;top:698.60px;font-size:17px;color:#566075;">12</div>
<div class="t " style="left:586.40px;top:697.80px;font-size:19px;color:#111420;letter-spacing:-0.097px;">Review with enable...</div>
<div class="t " style="left:827.00px;top:697.80px;font-size:19px;color:#111420;letter-spacing:0.656px;">30/01/2024</div>
<div class="t " style="left:951.70px;top:697.80px;font-size:19px;color:#111420;letter-spacing:0.130px;">31/01/...</div>
<div class="t " style="left:1095.00px;top:697.80px;font-size:19px;color:#111420;letter-spacing:0.266px;">2d</div>
<div class="t " style="left:356.85px;top:741.30px;font-size:17px;color:#566075;">13</div>
<div class="t " style="left:586.40px;top:740.50px;font-size:19px;color:#111420;letter-spacing:-0.078px;">Finalize Communicat...</div>
<div class="t " style="left:951.70px;top:740.50px;font-size:19px;color:#111420;letter-spacing:0.130px;">01/02/...</div>
<div class="t " style="left:356.85px;top:784.00px;font-size:17px;color:#566075;">14</div>
<div class="t " style="left:586.40px;top:783.20px;font-size:19px;color:#111420;letter-spacing:0.045px;">04. Internal Commu...</div>
<div class="t " style="left:827.00px;top:783.20px;font-size:19px;color:#111420;letter-spacing:0.656px;">02/02/2024</div>
<div class="t " style="left:951.70px;top:783.20px;font-size:19px;color:#111420;letter-spacing:0.130px;">05/02/...</div>
<div class="t " style="left:1095.00px;top:783.20px;font-size:19px;color:#111420;letter-spacing:0.266px;">2d</div>
<div class="t " style="left:356.85px;top:826.70px;font-size:17px;color:#566075;">15</div>
<div class="t " style="left:586.40px;top:825.90px;font-size:19px;color:#111420;letter-spacing:0.131px;">Feedback from Digit...</div>
<div class="t " style="left:951.70px;top:825.90px;font-size:19px;color:#111420;letter-spacing:0.130px;">06/02/...</div>
<div class="t " style="left:356.85px;top:869.40px;font-size:17px;color:#566075;">16</div>
<div class="t " style="left:586.40px;top:868.60px;font-size:19px;color:#111420;letter-spacing:0.115px;">Offical Launch Date</div>
<div class="t " style="left:951.70px;top:868.60px;font-size:19px;color:#111420;letter-spacing:0.130px;">08/02/...</div>
<div class="t " style="left:356.85px;top:912.10px;font-size:17px;color:#566075;">17</div>
<div class="t " style="left:586.40px;top:911.30px;font-size:19px;color:#111420;letter-spacing:-0.249px;">Initial KPI Review</div>
<div class="t " style="left:951.70px;top:911.30px;font-size:19px;color:#111420;letter-spacing:0.130px;">15/02/...</div>
<div class="t " style="left:356.85px;top:954.80px;font-size:17px;color:#566075;">18</div>
<div class="t " style="left:586.40px;top:954.00px;font-size:19px;color:#111420;letter-spacing:-0.079px;">External Communica...</div>
<div class="t " style="left:356.85px;top:997.50px;font-size:17px;color:#566075;">19</div>
<svg class="a" style="left:496.90px;top:1001.50px;" width="15.00" height="9.50" viewBox="0 0 15.00 9.50" fill="none"><path d="M2 2 L7.5 7.5 L13 2" stroke="#111420" stroke-width="1.35" stroke-linecap="round" stroke-linejoin="round"/></svg>
<div class="t " style="left:522.40px;top:996.70px;font-size:19px;color:#111420;font-weight:700;-webkit-text-stroke:0.01px currentColor;letter-spacing:-0.067px;">Perform Customer Resear...</div>
<div class="t " style="left:951.70px;top:996.70px;font-size:19px;color:#111420;letter-spacing:0.130px;">31/01/...</div>
<div class="t " style="left:356.85px;top:1040.20px;font-size:17px;color:#566075;">20</div>
<div class="t " style="left:554.40px;top:1039.40px;font-size:19px;color:#111420;letter-spacing:0.121px;">01. Plan and Messaging...</div>
<div class="t " style="left:827.00px;top:1039.40px;font-size:19px;color:#111420;letter-spacing:0.813px;">11/01/2024</div>
<div class="t " style="left:951.70px;top:1039.40px;font-size:19px;color:#111420;letter-spacing:0.130px;">12/01/...</div>
<div class="t " style="left:1095.00px;top:1039.40px;font-size:19px;color:#111420;letter-spacing:0.266px;">2d</div>
<div class="a" style="left:1215.60px;top:172.00px;width:584.40px;height:906.00px;background:#fff;"></div>
<div class="a" style="left:1215.60px;top:394.00px;width:584.40px;height:43.00px;background:#EDF0F5;"></div>
<div class="a" style="left:1215.60px;top:172.00px;width:584.40px;height:1.20px;background:#E3E7EE;"></div>
<div class="a" style="left:1451.90px;top:173.00px;width:1.20px;height:905.00px;background:#E3E7EE;"></div>
<div class="a" style="left:1735.10px;top:173.00px;width:1.20px;height:905.00px;background:#E3E7EE;"></div>
<div class="a" style="left:1215.60px;top:196.20px;width:584.40px;height:19.00px;background:#fff;"></div>
<div class="a" style="left:1215.60px;top:196.20px;width:584.40px;height:1.20px;background:#E3E7EE;"></div>
<div class="a" style="left:1215.60px;top:215.00px;width:584.40px;height:1.20px;background:#E3E7EE;"></div>
<div class="t " style="left:1216.70px;top:176.30px;font-size:14px;color:#111420;">4</div>
<div class="t " style="left:1463.30px;top:176.30px;font-size:14.5px;color:#111420;letter-spacing:0.604px;">Feb 2024</div>
<div class="t " style="left:1746.00px;top:176.30px;font-size:14.5px;color:#111420;letter-spacing:0.606px;">Mar 2024</div>
<div class="a" style="left:1217.70px;top:197.00px;width:1.20px;height:18.50px;background:#E3E7EE;"></div>
<div class="t " style="left:1236.78px;top:197.70px;font-size:14px;color:#111420;">8–14</div>
<div class="a" style="left:1285.95px;top:197.00px;width:1.20px;height:18.50px;background:#E3E7EE;"></div>
<div class="t " style="left:1301.14px;top:197.70px;font-size:14px;color:#111420;">15–21</div>
<div class="a" style="left:1354.20px;top:197.00px;width:1.20px;height:18.50px;background:#E3E7EE;"></div>
<div class="t " style="left:1369.39px;top:197.70px;font-size:14px;color:#111420;">22–28</div>
<div class="a" style="left:1422.45px;top:197.00px;width:1.20px;height:18.50px;background:#E3E7EE;"></div>
<div class="t " style="left:1441.53px;top:197.70px;font-size:14px;color:#111420;">29–4</div>
<div class="a" style="left:1490.70px;top:197.00px;width:1.20px;height:18.50px;background:#E3E7EE;"></div>
<div class="t " style="left:1510.30px;top:197.70px;font-size:14px;color:#111420;">5–11</div>
<div class="a" style="left:1558.95px;top:197.00px;width:1.20px;height:18.50px;background:#E3E7EE;"></div>
<div class="t " style="left:1574.14px;top:197.70px;font-size:14px;color:#111420;">12–18</div>
<div class="a" style="left:1627.20px;top:197.00px;width:1.20px;height:18.50px;background:#E3E7EE;"></div>
<div class="t " style="left:1642.39px;top:197.70px;font-size:14px;color:#111420;">19–25</div>
<div class="a" style="left:1695.45px;top:197.00px;width:1.20px;height:18.50px;background:#E3E7EE;"></div>
<div class="t " style="left:1714.53px;top:197.70px;font-size:14px;color:#111420;">26–3</div>
<div class="a" style="left:1763.70px;top:197.00px;width:1.20px;height:18.50px;background:#E3E7EE;"></div>
<div class="t " style="left:1782.78px;top:197.70px;font-size:14px;color:#111420;">4–10</div>
<div class="a" style="left:1215.60px;top:173.00px;width:18.00px;height:905.00px;background:linear-gradient(to right,rgba(0,0,0,0.06),rgba(0,0,0,0));"></div>
<div class="a" style="left:1215.60px;top:627.00px;width:16.00px;height:42.40px;background:#8A9AAF;border-radius:0 8px 8px 0;"></div>
<svg class="a" style="left:1218.00px;top:639.00px;" width="12.00" height="18.00" viewBox="0 0 12.00 18.00" fill="none"><path d="M8.3 2.8 L3.6 9 L8.3 15.2" stroke="#fff" stroke-width="1.3" stroke-linecap="round" stroke-linejoin="round"/></svg>
<svg class="a" style="left:1570.00px;top:216.00px;" width="20.00" height="34.00" viewBox="0 0 20.00 34.00" fill="none"><path d="M3.4 0 V20 Q3.4 27.4 10 27.4 H11" stroke="#4A5570" stroke-width="1.5" fill="none"/><path d="M9 23 L15.5 27.4 L9 31.8 Z" fill="#4A5570"/></svg>
<svg class="a" style="left:1583.00px;top:231.50px;" width="24.00" height="24.00" viewBox="0 0 24.00 24.00" fill="none"><rect x="4.3" y="4.3" width="15.4" height="15.4" rx="2.2" transform="rotate(45 12 12)" fill="#7FDDE3" stroke="#33B0B8" stroke-width="1.3"/></svg>
<div class="a" style="left:1594.20px;top:237.40px;width:109.60px;height:31.90px;background:rgba(234,237,243,0.8);border-radius:8px;"></div>
<div class="t " style="left:1614.30px;top:235.90px;font-size:16.8px;color:rgba(95,103,120,0.75);letter-spacing:-0.248px;">Initial KPI Review</div>
<div class="t " style="left:1605.40px;top:245.40px;font-size:16.8px;color:#111420;letter-spacing:-0.019px;">Months</div>
<svg class="a" style="left:1676.00px;top:248.50px;" width="14.00" height="9.00" viewBox="0 0 14.00 9.00" fill="none"><path d="M2 2 L7.0 7.0 L12 2" stroke="#111420" stroke-width="2" stroke-linecap="round" stroke-linejoin="round"/></svg>
<div class="a" style="left:1709.50px;top:238.00px;width:31.30px;height:31.30px;background:rgba(234,237,243,0.8);border-radius:8px;"></div>
<div class="a" style="left:1717.30px;top:252.20px;width:16.00px;height:2.80px;background:#111420;border-radius:1px;"></div>
<div class="a" style="left:1747.20px;top:238.00px;width:31.30px;height:31.30px;background:rgba(234,237,243,0.8);border-radius:8px;"></div>
<svg class="a" style="left:1753.05px;top:243.85px;" width="19.50" height="19.50" viewBox="0 0 19.50 19.50" fill="none"><path d="M9.75 2 V17.5 M2 9.75 H17.5" stroke="#111420" stroke-width="2.8" stroke-linecap="round"/></svg>
<svg class="a" style="left:1247.50px;top:278.05px;" width="14.00" height="15.00" viewBox="0 0 14.00 15.00" fill="none"><rect x="0.9" y="2.4" width="12.2" height="11.7" rx="2.4" stroke="#4F5A70" stroke-width="1.8"/><rect x="0.9" y="2" width="12.2" height="3.4" rx="1.2" fill="#4F5A70"/><path d="M3.4 0.3 V2.5 M10.6 0.3 V2.5" stroke="#4F5A70" stroke-width="1.4"/></svg>
<div class="t " style="left:1268.00px;top:278.35px;font-size:16.8px;color:#4F5A70;">External Communication</div>
<svg class="a" style="left:1249.50px;top:315.00px;" width="16.50" height="18.00" viewBox="0 0 16.50 18.00" fill="none"><rect x="2" y="2.8" width="12.5" height="14.2" rx="1.5" stroke="#111420" stroke-width="1.5"/><rect x="5.2" y="1" width="6" height="3.2" rx="1" stroke="#111420" stroke-width="1.3" fill="#fff"/><path d="M5 8.2 H11.5 M5 11.2 H11.5 M5 14 H9" stroke="#111420" stroke-width="1.3"/></svg>
<div class="t " style="left:1268.90px;top:318.70px;font-size:16.8px;color:#111420;font-weight:700;-webkit-text-stroke:0.01px currentColor;letter-spacing:-0.019px;">Perform Customer Research and Market Analysis</div>
<div class="a" style="left:1247.40px;top:335.20px;width:552.60px;height:4.00px;background:#FDF1C4;border:1.3px solid #C9A23A;border-right:none;border-radius:2px 0 0 0;box-sizing:border-box;"></div>
<svg class="a" style="left:1246.50px;top:337.00px;" width="9.50" height="7.00" viewBox="0 0 9.50 7.00" fill="none"><path d="M1.2 1 V6 L6 2" stroke="#C9A23A" stroke-width="1.3" fill="#FDF1C4" stroke-linejoin="round"/></svg>
<div class="a" style="left:1247.80px;top:361.80px;width:19.70px;height:19.45px;background:#FFA033;border:1.4px solid #D06A16;border-radius:3px;box-sizing:border-box;"></div>
<div class="t " style="left:1275.50px;top:363.70px;font-size:16.8px;color:#111420;letter-spacing:-0.083px;">01. Plan and Messaging Strategy</div>
<svg class="a" style="left:1253.50px;top:404.40px;" width="19.00" height="19.00" viewBox="0 0 19.00 19.00" fill="none"><circle cx="9.5" cy="9.5" r="8.2" stroke="#33AEB5" stroke-width="1.5" fill="#fff"/><circle cx="9.5" cy="9.5" r="2.6" fill="#33AEB5"/></svg>
<svg class="a" style="left:1349.90px;top:404.40px;" width="19.00" height="19.00" viewBox="0 0 19.00 19.00" fill="none"><circle cx="9.5" cy="9.5" r="8.2" stroke="#33AEB5" stroke-width="1.5" fill="#fff"/><circle cx="9.5" cy="9.5" r="2.6" fill="#33AEB5"/></svg>
<div class="a" style="left:1277.20px;top:404.20px;width:67.40px;height:19.40px;background:#E6F7F8;border:1.5px solid #33AEB5;border-radius:9.7px;box-sizing:border-box;"></div>
<div class="a" style="left:1286.40px;top:404.20px;width:49.00px;height:19.40px;background:#8BE3E8;border-top:1.5px solid #33AEB5;border-bottom:1.5px solid #33AEB5;box-sizing:border-box;"></div>
<div class="a" style="left:1285.80px;top:404.20px;width:1.50px;height:19.40px;background:#33AEB5;"></div>
<div class="a" style="left:1334.50px;top:404.20px;width:1.50px;height:19.40px;background:#33AEB5;"></div>
<svg class="a" style="left:1277.00px;top:404.00px;" width="68.00" height="20.00" viewBox="0 0 68.00 20.00" fill="none"><path d="M8.3 5.8 L3.6 10 L8.3 14.2 Z M59.7 5.8 L64.4 10 L59.7 14.2 Z" fill="#33AEB5"/></svg>
<svg class="a" style="left:1331.00px;top:417.00px;" width="21.00" height="18.00" viewBox="0 0 21.00 18.00" fill="none"><path d="M2 6.5 H10.5 V2.5 L18.5 9 L10.5 15.5 V11.5 H2 Z" fill="#111" stroke="#fff" stroke-width="1.5" stroke-linejoin="round"/></svg>
<div class="t " style="left:1375.50px;top:406.40px;font-size:16.8px;color:#111420;letter-spacing:0.083px;">Content Development</div>
<div class="a" style="left:1305.20px;top:447.00px;width:79.80px;height:19.50px;background:#FFDB66;border:1.4px solid #D4A52E;border-radius:4px;box-sizing:border-box;"></div>
<div class="t " style="left:1393.00px;top:449.15px;font-size:16.8px;color:#111420;letter-spacing:0.067px;">02. Content Development</div>
<div class="a" style="left:1325.30px;top:489.70px;width:118.30px;height:19.50px;background:#C27DDB;border:1.4px solid #9330B5;border-radius:4px;box-sizing:border-box;"></div>
<div class="t " style="left:1451.80px;top:491.85px;font-size:16.8px;color:#111420;letter-spacing:-0.136px;">03. External Research</div>
<div class="a" style="left:1354.60px;top:532.40px;width:50.10px;height:19.50px;background:#FFA033;border:1.4px solid #D06A16;border-radius:4px;box-sizing:border-box;"></div>
<div class="t " style="left:1413.00px;top:534.55px;font-size:16.8px;color:#111420;letter-spacing:-0.063px;">04. Team Enablement</div>
<div class="a" style="left:1384.00px;top:575.30px;width:118.10px;height:19.50px;background:#6ACC5E;border:1.4px solid #2F9A2B;border-radius:4px;box-sizing:border-box;"></div>
<div class="t " style="left:1510.40px;top:577.25px;font-size:16.8px;color:#111420;letter-spacing:-0.044px;">05. Results Analysis</div>
<svg class="a" style="left:1513.00px;top:615.50px;" width="26.00" height="26.00" viewBox="0 0 26.00 26.00" fill="none"><rect x="6" y="6" width="14" height="14" rx="2.2" transform="rotate(45 13 13)" fill="#FFDB66" stroke="#D4A52E" stroke-width="1.4"/></svg>
<div class="t " style="left:1545.00px;top:619.95px;font-size:16.8px;color:#111420;letter-spacing:-0.079px;">06. GA Launch • Lisa S.</div>
<svg class="a" style="left:1247.50px;top:662.05px;" width="14.00" height="15.00" viewBox="0 0 14.00 15.00" fill="none"><rect x="0.9" y="2.4" width="12.2" height="11.7" rx="2.4" stroke="#4F5A70" stroke-width="1.8"/><rect x="0.9" y="2" width="12.2" height="3.4" rx="1.2" fill="#4F5A70"/><path d="M3.4 0.3 V2.5 M10.6 0.3 V2.5" stroke="#4F5A70" stroke-width="1.4"/></svg>
<div class="t " style="left:1268.00px;top:662.65px;font-size:16.8px;color:#4F5A70;">External Communication</div>
<div class="t " style="left:1551.80px;top:709.80px;font-size:16.8px;color:#111420;font-weight:700;-webkit-text-stroke:0.01px currentColor;letter-spacing:-0.099px;">Step 1: Quick Start Guide</div>
<svg class="a" style="left:1759.00px;top:710.00px;" width="18.00" height="14.00" viewBox="0 0 18.00 14.00" fill="none"><path d="M1 12.8 V1.5 H6 L7.5 3.5 H16.5 V12.8 Z M1 5.5 H16.5" stroke="#111420" stroke-width="1.4" stroke-linejoin="round"/></svg>
<div class="a" style="left:1779.20px;top:718.80px;width:13.40px;height:1.40px;background:#111420;"></div>
<svg class="a" style="left:1782.00px;top:750.00px;" width="13.00" height="12.00" viewBox="0 0 13.00 12.00" fill="none"><path d="M1 0.7 L11.5 5.9 L1 11.2 Z" fill="#4A5570"/></svg>
<div class="a" style="left:1215.6px;top:770px;width:584.4000000000001px;height:308px;overflow:hidden">
<div class="t " style="left:361.40px;top:20.55px;font-size:16.8px;color:#4F5A70;letter-spacing:-0.032px;">Review with Digital Team</div>
<svg class="a" style="left:553.50px;top:21.65px;" width="14.00" height="15.00" viewBox="0 0 14.00 15.00" fill="none"><rect x="0.9" y="2.4" width="12.2" height="11.7" rx="2.4" stroke="#4F5A70" stroke-width="1.8"/><rect x="0.9" y="2" width="12.2" height="3.4" rx="1.2" fill="#4F5A70"/><path d="M3.4 0.3 V2.5 M10.6 0.3 V2.5" stroke="#4F5A70" stroke-width="1.4"/></svg>
<div class="t " style="left:27.70px;top:63.25px;font-size:16.8px;color:#4F5A70;letter-spacing:0.092px;">Speak with a Marketing specialist if you want to learn more. • Julia H.</div>
<svg class="a" style="left:553.50px;top:64.35px;" width="14.00" height="15.00" viewBox="0 0 14.00 15.00" fill="none"><rect x="0.9" y="2.4" width="12.2" height="11.7" rx="2.4" stroke="#4F5A70" stroke-width="1.8"/><rect x="0.9" y="2" width="12.2" height="3.4" rx="1.2" fill="#4F5A70"/><path d="M3.4 0.3 V2.5 M10.6 0.3 V2.5" stroke="#4F5A70" stroke-width="1.4"/></svg>
<div class="t " style="left:-56.88px;top:105.95px;font-size:16.8px;color:#4F5A70;letter-spacing:0.063px;">Detailed instructions on how to use this template are here (10 min read) • Lisa S.</div>
<svg class="a" style="left:553.50px;top:107.05px;" width="14.00" height="15.00" viewBox="0 0 14.00 15.00" fill="none"><rect x="0.9" y="2.4" width="12.2" height="11.7" rx="2.4" stroke="#4F5A70" stroke-width="1.8"/><rect x="0.9" y="2" width="12.2" height="3.4" rx="1.2" fill="#4F5A70"/><path d="M3.4 0.3 V2.5 M10.6 0.3 V2.5" stroke="#4F5A70" stroke-width="1.4"/></svg>
<div class="t " style="left:-141.82px;top:148.65px;font-size:16.8px;color:#4F5A70;letter-spacing:0.155px;">Pick a task, a creative, or even a post...Drag it to the "Tried it" to show it's done. • Jason M.</div>
<svg class="a" style="left:553.50px;top:149.75px;" width="14.00" height="15.00" viewBox="0 0 14.00 15.00" fill="none"><rect x="0.9" y="2.4" width="12.2" height="11.7" rx="2.4" stroke="#4F5A70" stroke-width="1.8"/><rect x="0.9" y="2" width="12.2" height="3.4" rx="1.2" fill="#4F5A70"/><path d="M3.4 0.3 V2.5 M10.6 0.3 V2.5" stroke="#4F5A70" stroke-width="1.4"/></svg>
<div class="t " style="left:-198.41px;top:191.35px;font-size:16.8px;color:#4F5A70;letter-spacing:0.154px;">Organize your tasks and get them done with our personal productivity board. Try it now. • David M.</div>
<svg class="a" style="left:553.50px;top:192.45px;" width="14.00" height="15.00" viewBox="0 0 14.00 15.00" fill="none"><rect x="0.9" y="2.4" width="12.2" height="11.7" rx="2.4" stroke="#4F5A70" stroke-width="1.8"/><rect x="0.9" y="2" width="12.2" height="3.4" rx="1.2" fill="#4F5A70"/><path d="M3.4 0.3 V2.5 M10.6 0.3 V2.5" stroke="#4F5A70" stroke-width="1.4"/></svg>
<div class="t " style="left:-111.38px;top:234.05px;font-size:16.8px;color:#4F5A70;letter-spacing:0.114px;">Never miss a deadline. Set realistic delivery dates with our Gantt. Try it now. • Jason M.</div>
<svg class="a" style="left:553.50px;top:235.15px;" width="14.00" height="15.00" viewBox="0 0 14.00 15.00" fill="none"><rect x="0.9" y="2.4" width="12.2" height="11.7" rx="2.4" stroke="#4F5A70" stroke-width="1.8"/><rect x="0.9" y="2" width="12.2" height="3.4" rx="1.2" fill="#4F5A70"/><path d="M3.4 0.3 V2.5 M10.6 0.3 V2.5" stroke="#4F5A70" stroke-width="1.4"/></svg>
<div class="t " style="left:-79.44px;top:276.75px;font-size:16.8px;color:#4F5A70;letter-spacing:0.060px;">Track your progress with custom views created just for you. Try it now. • Brandon R.</div>
<svg class="a" style="left:553.50px;top:277.85px;" width="14.00" height="15.00" viewBox="0 0 14.00 15.00" fill="none"><rect x="0.9" y="2.4" width="12.2" height="11.7" rx="2.4" stroke="#4F5A70" stroke-width="1.8"/><rect x="0.9" y="2" width="12.2" height="3.4" rx="1.2" fill="#4F5A70"/><path d="M3.4 0.3 V2.5 M10.6 0.3 V2.5" stroke="#4F5A70" stroke-width="1.4"/></svg>
</div>
<svg class="a" style="left:1217.00px;top:830.80px;" width="20.00" height="19.40" viewBox="0 0 20.00 19.40" fill="none"><path d="M0.3 5.2 C0.3 1.6 4.5 0.3 10 0.3 C15.5 0.3 19.7 1.6 19.7 5.2 L19.2 6 H0.8 Z" fill="#D0202E"/><rect x="7.2" y="2.2" width="5" height="1.8" rx="0.8" fill="#F2C9CE"/><path d="M1.4 5.5 H18.6 L19.2 18.6 C19.2 19 18.8 19.3 18.4 19.3 H1.6 C1.2 19.3 0.8 19 0.8 18.6 Z" fill="#CF1F2C"/><rect x="0.8" y="15.8" width="18.4" height="3.5" rx="1" fill="#B8192A"/><rect x="5" y="7" width="2.4" height="2" fill="#F4E6EA"/><rect x="5" y="10" width="2.4" height="2" fill="#F4E6EA"/><rect x="5" y="13" width="2.4" height="2" fill="#F4E6EA"/><rect x="8.8" y="7" width="2.4" height="2" fill="#F4E6EA"/><rect x="8.8" y="10" width="2.4" height="2" fill="#F4E6EA"/><rect x="8.8" y="13" width="2.4" height="2" fill="#F4E6EA"/><rect x="12.6" y="7" width="2.4" height="2" fill="#F4E6EA"/><rect x="12.6" y="10" width="2.4" height="2" fill="#F4E6EA"/><rect x="12.6" y="13" width="2.4" height="2" fill="#F4E6EA"/></svg>
<div class="a" style="left:0.00px;top:0.00px;width:1800.00px;height:2.00px;background:#1E1F22;"></div><div class="a" style="left:340.00px;top:1035.00px;width:1460.00px;height:42.00px;background:linear-gradient(to bottom,rgba(0,0,0,0),rgba(0,0,0,0.045));"></div><div class="a" style="left:0.00px;top:1077.00px;width:1800.00px;height:1.00px;background:#555;"></div>
</div></body></html>
